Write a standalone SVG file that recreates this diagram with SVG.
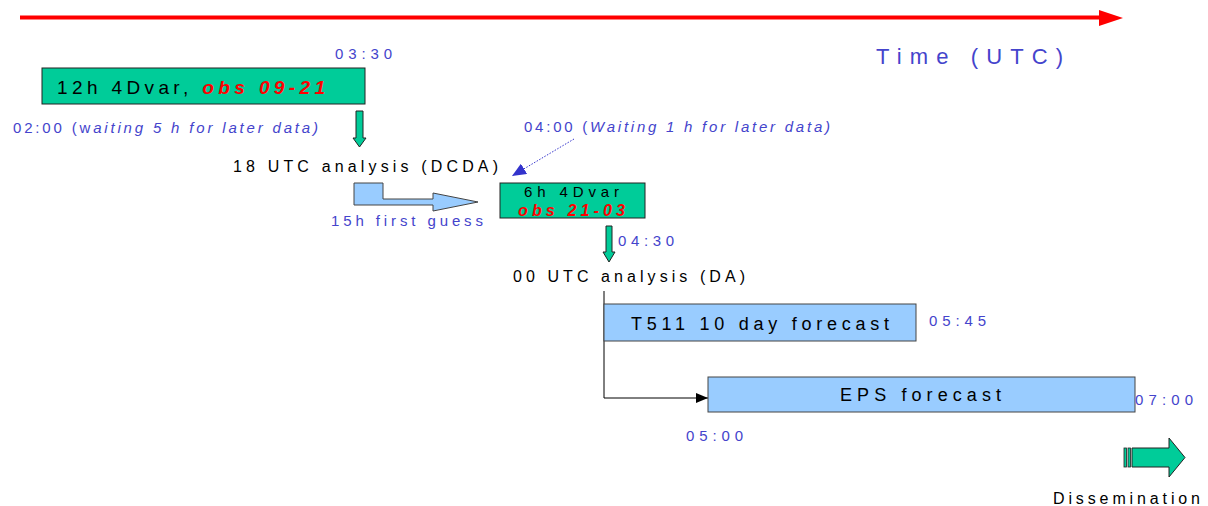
<svg xmlns="http://www.w3.org/2000/svg" width="1208" height="506" viewBox="0 0 1208 506">
<style>
text{font-family:"Liberation Sans",Arial,sans-serif;}
.b{fill:#4444cc;}
.k{fill:#000;}
.r{fill:#ff0000;font-weight:bold;font-style:italic;}
.i{font-style:italic;}
.green{fill:#00cc99;stroke:#222;stroke-width:1;}
.lb{fill:#99ccff;stroke:#444;stroke-width:1;}
</style>
<defs>
<marker id="ah" markerWidth="12" markerHeight="10" refX="12" refY="5" orient="auto" markerUnits="userSpaceOnUse">
<path d="M0,0 L12,5 L0,10 Z" fill="#000"/>
</marker>
<marker id="bh" markerWidth="14" markerHeight="12" refX="14" refY="6" orient="auto" markerUnits="userSpaceOnUse">
<path d="M0,0 L14,6 L0,12 Z" fill="#3333cc"/>
</marker>
</defs>
<rect width="1208" height="506" fill="#fff"/>

<g id="time-axis">
<line x1="20" y1="17.5" x2="1100" y2="17.5" stroke="#ff0000" stroke-width="4"/>
<path d="M1099,10 L1123,18 L1099,26 Z" fill="#ff0000"/>
<text class="b" x="876" y="64" font-size="22" textLength="187" lengthAdjust="spacing">Time (UTC)</text>
</g>

<g id="connectors">
<path d="M356,111 L363,111 L363,138 L366,138 L359.5,147 L353,138 L356,138 Z" class="green"/>
<path d="M606,226 L612,226 L612,252 L615,252 L609,262 L603,252 L606,252 Z" class="green"/>
<line x1="574" y1="139" x2="512" y2="176" stroke="#3333cc" stroke-width="1" stroke-dasharray="1.5,1.5" marker-end="url(#bh)"/>
<path d="M604,291 L604,398 L708,398" fill="none" stroke="#000" stroke-width="1" marker-end="url(#ah)"/>
<path d="M354,183 L383,183 L383,199 L433,199 L433,193 L478,202 L433,211 L433,205 L354,205 Z" class="lb"/>
</g>

<g id="node-12h">
<rect x="42" y="68" width="323" height="36" class="green"/>
<text x="57" y="94" font-size="19" textLength="268" lengthAdjust="spacing"><tspan class="k">12h 4Dvar, </tspan><tspan class="r">obs 09-21</tspan></text>
<text class="b" x="335" y="59" font-size="15" textLength="57" lengthAdjust="spacing">03:30</text>
<text class="b" x="13" y="133" font-size="15" textLength="305" lengthAdjust="spacing">02:00 (w<tspan class="i">aiting 5 h for later data)</tspan></text>
</g>

<g id="node-18utc">
<text class="k" x="233" y="172" font-size="16" textLength="265" lengthAdjust="spacing">18 UTC analysis (DCDA)</text>
<text class="b" x="331" y="226" font-size="15" textLength="152" lengthAdjust="spacing">15h first guess</text>
</g>

<g id="node-6h">
<rect x="500" y="183" width="145" height="35" class="green"/>
<text class="k" x="524" y="197" font-size="15" textLength="95" lengthAdjust="spacing">6h 4Dvar</text>
<text class="r" x="518" y="216" font-size="16" textLength="107" lengthAdjust="spacing">obs 21-03</text>
<text class="b" x="524" y="132" font-size="15" textLength="306" lengthAdjust="spacing">04:00 (<tspan class="i">Waiting 1 h for later data)</tspan></text>
<text class="b" x="618" y="246" font-size="15" textLength="56" lengthAdjust="spacing">04:30</text>
</g>

<g id="node-00utc">
<text class="k" x="513" y="282" font-size="16" textLength="232" lengthAdjust="spacing">00 UTC analysis (DA)</text>
</g>

<g id="node-t511">
<rect x="604" y="304" width="312" height="37" class="lb"/>
<text class="k" x="631" y="330" font-size="18" textLength="258" lengthAdjust="spacing">T511 10 day forecast</text>
<text class="b" x="929" y="326" font-size="15" textLength="57" lengthAdjust="spacing">05:45</text>
</g>

<g id="node-eps">
<rect x="708" y="377" width="427" height="35" class="lb"/>
<text class="k" x="840" y="401" font-size="18" textLength="161" lengthAdjust="spacing">EPS forecast</text>
<text class="b" x="1135" y="405" font-size="15" textLength="58" lengthAdjust="spacing">07:00</text>
<text class="b" x="686" y="441" font-size="15" textLength="57" lengthAdjust="spacing">05:00</text>
</g>

<g id="node-dissemination">
<rect x="1124" y="448" width="2.5" height="19" fill="#00cc99" stroke="#222" stroke-width="0.8"/>
<rect x="1128" y="448" width="2.5" height="19" fill="#00cc99" stroke="#222" stroke-width="0.8"/>
<path d="M1132,448 L1169,448 L1169,438 L1185,457.5 L1169,477 L1169,467 L1132,467 Z" fill="#00cc99" stroke="#222" stroke-width="1"/>
<text class="k" x="1053" y="504" font-size="16" textLength="147" lengthAdjust="spacing">Dissemination</text>
</g>
</svg>
